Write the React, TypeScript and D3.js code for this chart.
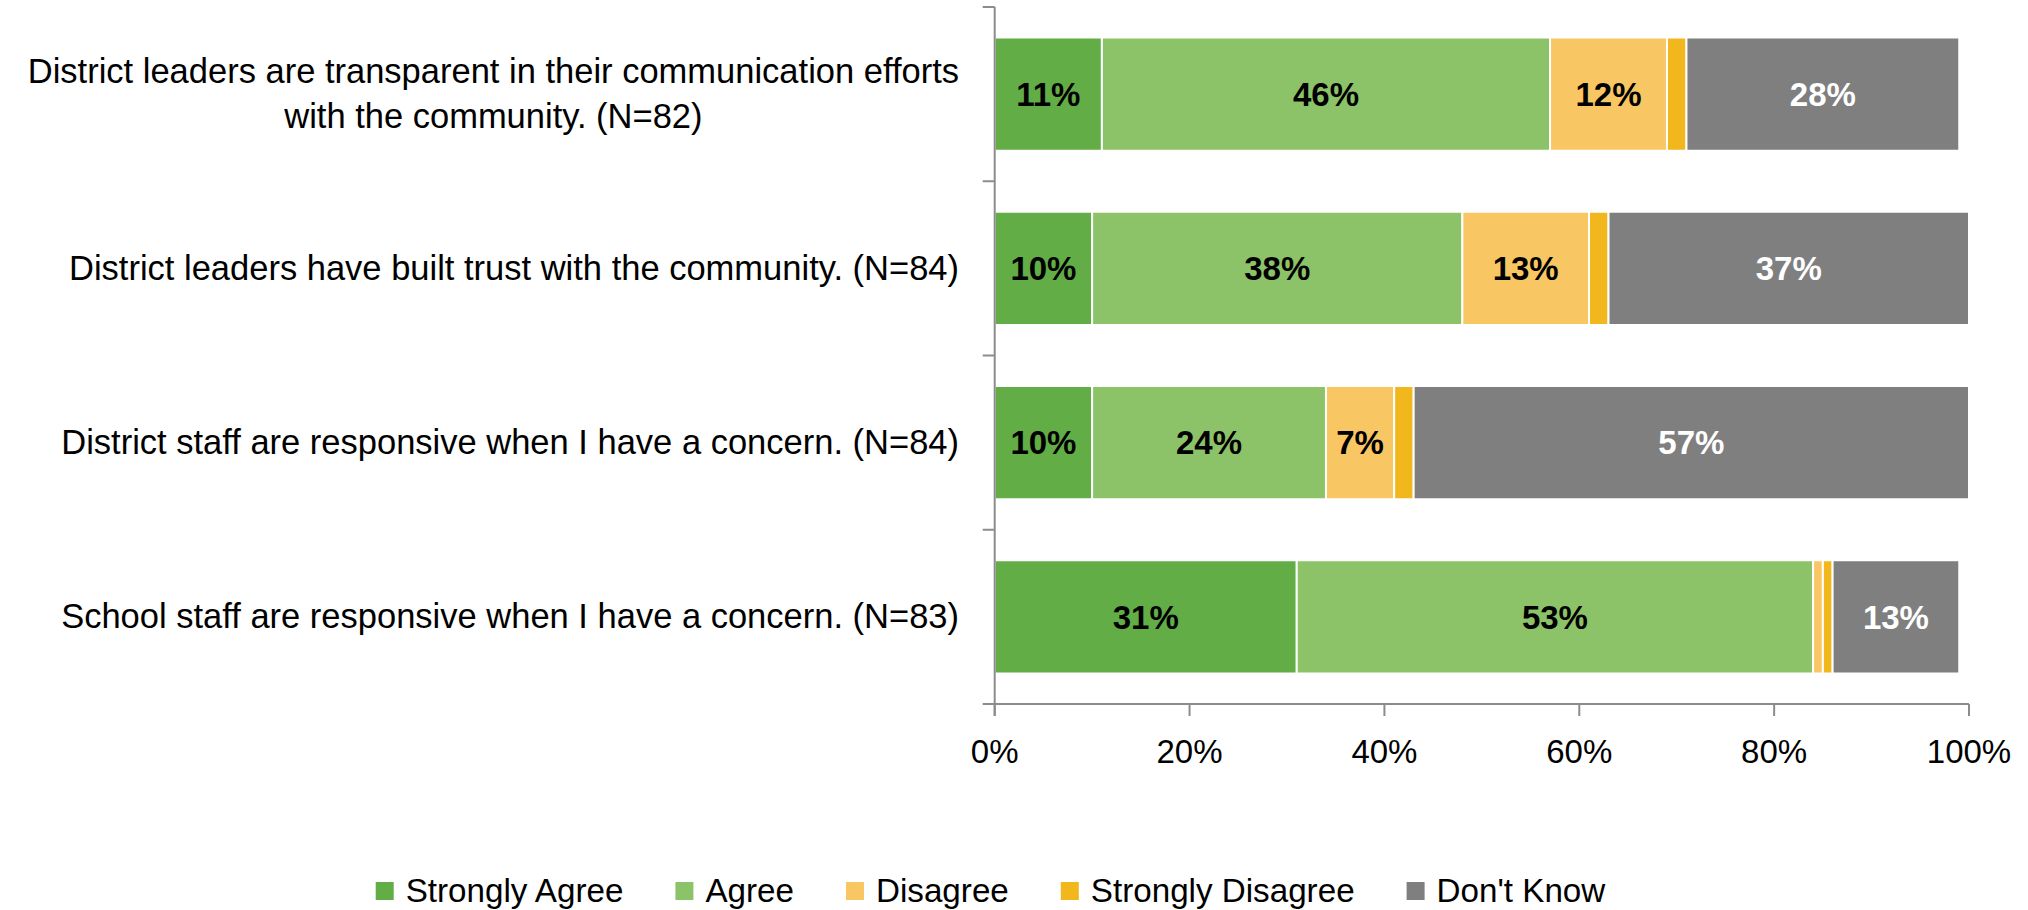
import React, { useEffect, useRef } from 'react';
import * as d3 from 'd3';

const W = 2028;
const H = 910;

const categories = [
  'District leaders are transparent in their communication efforts with the community. (N=82)',
  'District leaders have built trust with the community. (N=84)',
  'District staff are responsive when I have a concern. (N=84)',
  'School staff are responsive when I have a concern. (N=83)',
];
const categoryLines = [
  ['District leaders are transparent in their communication efforts', 'with the community. (N=82)'],
  ['District leaders have built trust with the community. (N=84)'],
  ['District staff are responsive when I have a concern. (N=84)'],
  ['School staff are responsive when I have a concern. (N=83)'],
];
const seriesNames = ['Strongly Agree', 'Agree', 'Disagree', 'Strongly Disagree', "Don't Know"];
const stronglyAgree = [11, 10, 10, 31];
const agree = [46, 38, 24, 53];
const disagree = [12, 13, 7, 1];
const stronglyDisagree = [2, 2, 2, 1];
const dontKnow = [28, 37, 57, 13];
const xTicks = [0, 20, 40, 60, 80, 100];
const colors = ['#62AD46', '#8DC368', '#F8C663', '#F2B71C', '#7F7F7F'];
const labelColors = ['#000', '#000', '#000', '#000', '#fff'];

const FONT = "'Liberation Sans', Arial, sans-serif";
const FS = 33;
const CAT_FS = 34.5;
const LEG_FS = 33.2;
const AXIS = '#8C8C8C';

export default function App() {
  const ref = useRef<SVGSVGElement | null>(null);

  useEffect(() => {
    const svg = d3.select(ref.current);
    svg.selectAll('*').remove();

    const left = 994.7, right = 1969, top = 7, bottom = 704;
    const x = d3.scaleLinear().domain([0, 100]).range([left, right]);
    const y = d3.scaleBand<string>().domain(categories).range([top, bottom]).paddingInner(0.35).paddingOuter(0.175);

    const series = [stronglyAgree, agree, disagree, stronglyDisagree, dontKnow];
    const rows = categories.map((c, i) => {
      const o: any = { cat: c };
      seriesNames.forEach((s, j) => (o[s] = series[j][i]));
      return o;
    });
    const stacked = d3.stack<any>().keys(seriesNames)(rows);

    const g = svg.append('g');
    stacked.forEach((layer, j) => {
      const lg = g.append('g');
      lg.selectAll('rect')
        .data(layer)
        .join('rect')
        .attr('x', (d) => x(d[0]))
        .attr('y', (d) => y(d.data.cat)!)
        .attr('width', (d) => x(d[1]) - x(d[0]))
        .attr('height', y.bandwidth())
        .attr('fill', colors[j])
        .attr('stroke', '#fff')
        .attr('stroke-width', 2);
      lg.selectAll('text')
        .data(layer.filter((d) => d[1] - d[0] >= 5))
        .join('text')
        .attr('x', (d) => (x(d[0]) + x(d[1])) / 2)
        .attr('y', (d) => y(d.data.cat)! + y.bandwidth() / 2 + 11.8)
        .attr('text-anchor', 'middle')
        .attr('font-family', FONT)
        .attr('font-size', FS)
        .attr('font-weight', 'bold')
        .attr('fill', labelColors[j])
        .text((d) => `${d[1] - d[0]}%`);
    });

    // y axis
    const ax = svg.append('g').attr('stroke', AXIS).attr('stroke-width', 2).attr('fill', 'none');
    ax.append('line').attr('x1', left).attr('x2', left).attr('y1', top).attr('y2', bottom + 12);
    d3.range(categories.length + 1).forEach((i) => {
      const pos = y.range()[0] + (i * (y.range()[1] - y.range()[0])) / categories.length;
      ax.append('line').attr('x1', left - 12).attr('x2', left).attr('y1', pos).attr('y2', pos);
    });
    // x axis
    ax.append('line').attr('x1', left).attr('x2', right).attr('y1', bottom).attr('y2', bottom);
    xTicks.forEach((t) => {
      ax.append('line').attr('x1', x(t)).attr('x2', x(t)).attr('y1', bottom).attr('y2', bottom + 12);
    });
    svg
      .append('g')
      .selectAll('text')
      .data(xTicks)
      .join('text')
      .attr('x', (d) => x(d))
      .attr('y', bottom + 59)
      .attr('text-anchor', 'middle')
      .attr('font-family', FONT)
      .attr('font-size', FS)
      .attr('fill', '#000')
      .text((d) => `${d}%`);

    // category labels
    const labelRight = 959;
    const lineH = 45;
    categories.forEach((c, i) => {
      const lines = categoryLines[i];
      const cy = y(c)! + y.bandwidth() / 2;
      const lg = svg.append('g');
      const texts = lines.map((ln, k) =>
        lg
          .append('text')
          .attr('font-family', FONT)
          .attr('font-size', CAT_FS)
          .attr('fill', '#000')
          .attr('text-anchor', 'middle')
          .attr('y', cy + 11.4 + (k - (lines.length - 1) / 2) * lineH)
          .text(ln)
      );
      const maxW = d3.max(texts, (t) => (t.node() as SVGTextElement).getComputedTextLength()) || 0;
      texts.forEach((t) => t.attr('x', labelRight - maxW / 2));
    });

    // legend
    const leg = svg.append('g');
    const sq = 18, gapText = 30, gapItem = 52, legCenter = 990.5, legBase = 902;
    let cx = 0;
    const items = seriesNames.map((s, j) => {
      const ig = leg.append('g');
      ig.append('rect').attr('x', 0).attr('y', legBase - 20).attr('width', sq).attr('height', sq).attr('fill', colors[j]);
      const t = ig
        .append('text')
        .attr('x', gapText)
        .attr('y', legBase)
        .attr('font-family', FONT)
        .attr('font-size', LEG_FS)
        .attr('fill', '#000')
        .text(s);
      const w = gapText + (t.node() as SVGTextElement).getComputedTextLength();
      const item = { ig, start: cx };
      cx += w + gapItem;
      return item;
    });
    const total = cx - gapItem;
    const start = legCenter - total / 2;
    items.forEach((it) => it.ig.attr('transform', `translate(${start + it.start},0)`));
  }, []);

  return (
    <svg
      ref={ref}
      width={W}
      height={H}
      viewBox={`0 0 ${W} ${H}`}
      style={{ position: 'absolute', left: 0, top: 0, background: '#fff' }}
    />
  );
}
